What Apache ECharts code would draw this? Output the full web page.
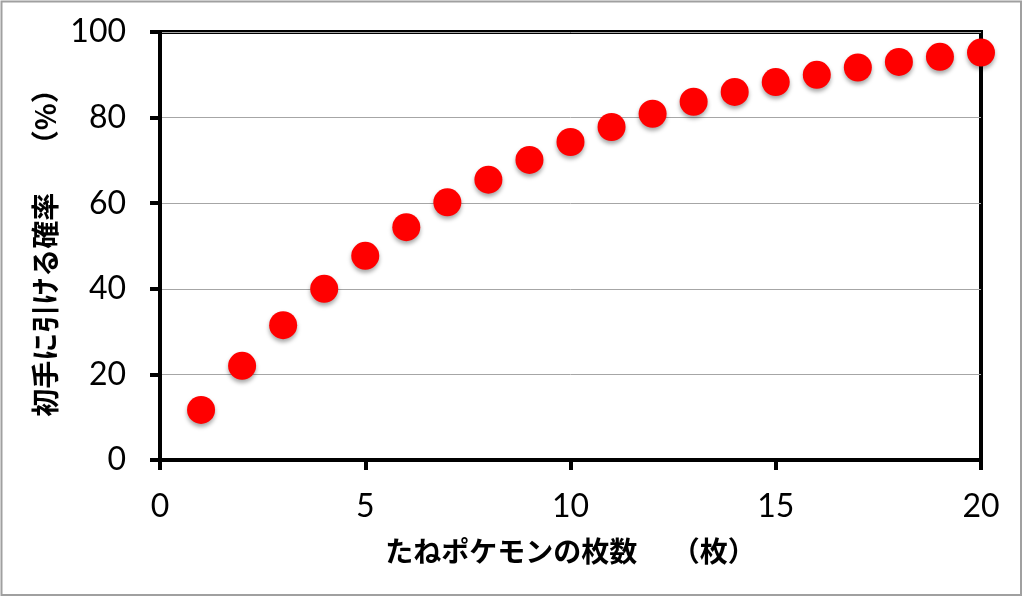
<!DOCTYPE html>
<html>
<head>
<meta charset="utf-8">
<title>初手に引ける確率</title>
<script src="https://cdn.jsdelivr.net/npm/echarts@6/dist/echarts.min.js"></script>
<style>
  html, body { margin: 0; padding: 0; background: #fff; }
  #chart { width: 1024px; height: 597px; }
</style>
</head>
<body>
<div id="chart"></div>
<script>
// たねポケモンの枚数
var basicCount = [1, 2, 3, 4, 5, 6, 7, 8, 9, 10, 11, 12, 13, 14, 15, 16, 17, 18, 19, 20];
// 初手に引ける確率 (%)
var drawRate = [11.7, 22.0, 31.5, 40.0, 47.7, 54.4, 60.2, 65.5, 70.1, 74.3, 77.8, 80.9, 83.7, 86.0, 88.3, 90.0, 91.7, 93.0, 94.2, 95.2];
var xName = 'たねポケモンの枚数　 （枚）';
var yName = '初手に引ける確率　 （%）';

var points = [];
for (var i = 0; i < basicCount.length; i++) {
  points.push([basicCount[i], drawRate[i]]);
}

var font = 'Lato, "Noto Sans CJK JP", sans-serif';
var jpFont = '"Noto Sans CJK JP", sans-serif';
var chart = echarts.init(document.getElementById('chart'));
var option = {
  animation: false,
  backgroundColor: '#fff',
  grid: {
    left: 160, right: 43, top: 32, bottom: 137,
    show: true, borderColor: '#000', borderWidth: 4
  },
  xAxis: {
    type: 'value',
    min: 0, max: 20, interval: 5,
    name: xName,
    nameLocation: 'middle',
    nameGap: 77,
    nameTextStyle: { fontFamily: jpFont, fontSize: 28, fontWeight: 'bold', color: '#000' },
    axisLine: { lineStyle: { color: '#000', width: 4 } },
    axisTick: { show: true, inside: false, length: 10, lineStyle: { color: '#000', width: 4 } },
    axisLabel: { fontFamily: font, fontSize: 32, color: '#000', margin: 31 },
    splitLine: { show: false }
  },
  yAxis: {
    type: 'value',
    min: 0, max: 100, interval: 20,
    name: yName,
    nameLocation: 'middle',
    nameRotate: 90,
    nameGap: 99,
    nameTextStyle: { fontFamily: jpFont, fontSize: 28, fontWeight: 'bold', color: '#000' },
    axisLine: { lineStyle: { color: '#000', width: 4 } },
    axisTick: { show: true, inside: false, length: 10, lineStyle: { color: '#000', width: 4 } },
    axisLabel: { fontFamily: font, fontSize: 32, color: '#000', margin: 34 },
    splitLine: { show: true, lineStyle: { color: '#a6a6a6', width: 1 } }
  },
  series: [{
    type: 'scatter',
    data: points,
    symbol: 'circle',
    symbolSize: 28,
    clip: false,
    itemStyle: {
      color: '#ff0000',
      opacity: 1,
      shadowColor: 'rgba(0,0,0,0.35)',
      shadowBlur: 4,
      shadowOffsetY: 3
    }
  }],
  graphic: [{
    type: 'rect',
    shape: { x: 1.5, y: 1.5, width: 1019.5, height: 593.5 },
    style: { fill: 'none', stroke: '#a0a0a0', lineWidth: 2 },
    silent: true
  }]
};
chart.setOption(option);
</script>
</body>
</html>
